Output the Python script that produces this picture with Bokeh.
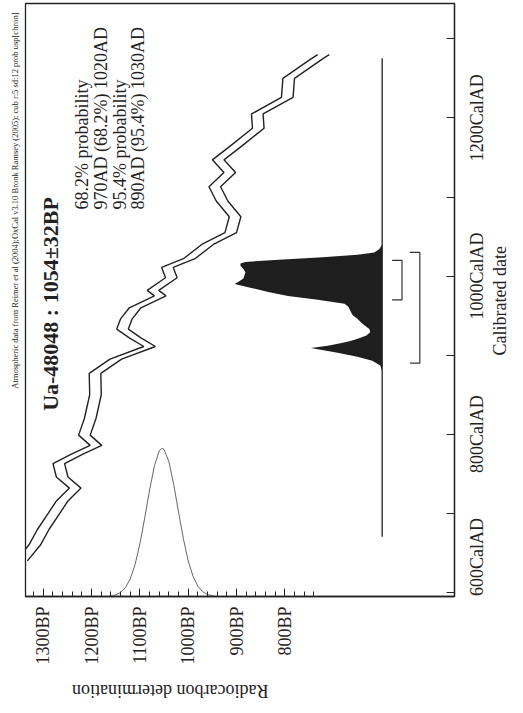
import math
from bokeh.plotting import figure
from bokeh.models import Range1d, FixedTicker, Label, LinearAxis
from bokeh.embed import file_html
from bokeh.resources import INLINE

# ---------------- data ----------------
# calibration curve (IntCal04 as drawn): cal AD vs radiocarbon BP (centre), +/- sigma
cal_ad = [640, 660, 680, 700, 715, 732, 746, 763, 775, 786, 799, 820, 850, 877, 895,
          911, 922, 933, 946, 960, 975, 982, 998, 1011, 1022, 1040, 1055, 1075, 1095,
          1113, 1131, 1147, 1165, 1187, 1205, 1226, 1250, 1275, 1280]
cal_bp = [1345, 1318, 1300, 1278, 1262, 1234, 1261, 1268, 1230, 1191, 1215, 1203, 1192, 1193, 1150,
          1080, 1110, 1136, 1128, 1110, 1058, 1073, 1035, 1043, 998, 960, 912, 903, 930,
          945, 914, 938, 900, 855, 857, 795, 792, 733, 720]
cal_sigma = 12

# radiocarbon determination 1054 +/- 32 BP (relative height as drawn)
c14_bp = [1165, 1160, 1150, 1140, 1130, 1120, 1110, 1100, 1090, 1080, 1070, 1060, 1054,
          1050, 1040, 1030, 1020, 1010, 1000, 990, 980, 970, 960, 950, 945]
c14_p = [0.0, 0.004, 0.011, 0.027, 0.060, 0.119, 0.216, 0.356, 0.531, 0.719, 0.882, 0.983, 1.0,
         0.992, 0.909, 0.755, 0.569, 0.389, 0.240, 0.135, 0.069, 0.032, 0.013, 0.005, 0.0]

# calibrated probability distribution (relative)
pdf_ad = [880, 887, 893, 898, 903, 907, 909, 912, 915, 918, 921, 925, 929, 933, 937, 941,
          946, 951, 956, 961, 965, 970, 975, 980, 985, 990, 993, 997, 1001, 1005, 1009,
          1013, 1016, 1018, 1021, 1024, 1027, 1030, 1034, 1040, 1045]
pdf_p = [0.0, 0.013, 0.067, 0.168, 0.302, 0.416, 0.483, 0.369, 0.282, 0.215, 0.161, 0.107,
         0.081, 0.087, 0.114, 0.141, 0.168, 0.201, 0.215, 0.228, 0.255, 0.436, 0.638, 0.772,
         0.886, 1.0, 0.973, 0.940, 0.933, 0.926, 0.940, 0.960, 0.960, 0.926, 0.671, 0.403,
         0.168, 0.054, 0.020, 0.0, 0.0]

# ranges
range_68 = [970, 1020]
range_95 = [890, 1030]

bp_major = [800, 900, 1000, 1100, 1200, 1300]
bp_minor = list(range(740, 1321, 20))
ad_ticks = [600, 700, 800, 900, 1000, 1100, 1200, 1300]
ad_labelled = [800, 1000, 1200]
ad_first = 600

title = "Ua-48048 : 1054\u00b132BP"
header = ("Atmospheric data from Reimer et al (2004);OxCal v3.10 Bronk Ramsey (2005); "
          "cub r:5 sd:12 prob usp[chron]")
prob_lines = ["68.2% probability", "970AD (68.2%) 1020AD",
              "95.4% probability", "890AD (95.4%) 1030AD"]
x_title = "Calibrated date"
y_title = "Radiocarbon determination"

# ---------------- layout (page pixels) ----------------
W, H = 523, 713
FL, FR, FT, FB = 25, 458, 3, 599          # frame edges on page
X0, BP0 = 43, 1300                         # 1300BP at page x=43
PX_BP = 0.4875                             # px per BP year
Y0, AD0 = 595, 600                         # 600 CalAD at page y=595
PX_AD = 0.795                              # px per calendar year
FS = 18                                     # main serif size (px)


def bp_at(x):
    return BP0 - (x - X0) / PX_BP


def ad_at(y):
    return AD0 + (Y0 - y) / PX_AD


# approximate Liberation Serif advance widths (em) for centring rotated labels
EM = {"0": .5, "1": .5, "2": .5, "3": .5, "4": .5, "5": .5, "6": .5, "7": .5, "8": .5,
      "9": .5, "C": .667, "a": .444, "l": .278, "A": .722, "D": .722, "i": .278,
      "b": .5, "r": .333, "t": .278, "e": .444, "d": .5, " ": .25}


def text_px(s, size=FS):
    return sum(EM.get(ch, .5) for ch in s) * size


INK = "#222222"
SERIF = "Liberation Serif"

p = figure(width=W, height=H, output_backend="svg", toolbar_location=None,
           x_range=Range1d(bp_at(FL), bp_at(FR)), y_range=Range1d(ad_at(FB), ad_at(FT)),
           x_axis_location="below", y_axis_location="right",
           min_border_left=FL, min_border_right=W - FR, min_border_top=FT,
           min_border_bottom=H - FB, background_fill_color="white",
           border_fill_color="white", outline_line_color=INK, outline_line_width=1.3)
p.grid.visible = False


def text_axis(ticks, labels, size, angle, standoff):
    """An axis that draws only its tick labels (no line, no tick marks)."""
    return LinearAxis(ticker=FixedTicker(ticks=ticks), axis_line_color=None,
                      major_tick_line_color=None, minor_tick_line_color=None,
                      major_tick_out=0, major_tick_in=0,
                      major_label_standoff=standoff, major_label_orientation=angle,
                      major_label_overrides=dict(zip(ticks, labels)),
                      major_label_text_font=SERIF, major_label_text_font_size=size,
                      major_label_text_color=INK)


# bottom (radiocarbon) axis: ticks + labels
xa = p.xaxis[0]
xa.ticker = FixedTicker(ticks=bp_major, minor_ticks=bp_minor)
xa.major_label_overrides = {v: f"{v}BP" for v in bp_major}
xa.major_label_orientation = math.pi / 2
xa.major_tick_in = 8
xa.major_tick_out = 0
xa.minor_tick_in = 5
xa.minor_tick_out = 0
xa.major_label_standoff = 10
xa.major_label_text_font = SERIF
xa.major_label_text_font_size = f"{FS}px"
xa.major_label_text_color = INK
xa.axis_line_color = INK
xa.axis_line_width = 1.3
xa.major_tick_line_color = INK
xa.minor_tick_line_color = INK

# upside-down axis title; its end (left side) sits at x=72
p.add_layout(text_axis([bp_at(72)], [y_title], f"{FS}px", math.pi, 23), "below")

# right (calendar) axis: tick marks only
ya = p.yaxis[0]
ya.ticker = FixedTicker(ticks=ad_ticks)
ya.major_label_overrides = {v: "" for v in ad_ticks}
ya.major_label_text_font_size = "0px"
ya.major_label_standoff = 0
ya.major_tick_in = 8
ya.major_tick_out = 0
ya.axis_line_color = INK
ya.axis_line_width = 1.3
ya.major_tick_line_color = INK
ya.minor_tick_line_color = None

# calendar labels, centred on their ticks (labels start at the anchor and run upward);
# the first one cannot hang below the frame, so it starts at the frame's bottom edge
cal_texts = [f"{v}CalAD" for v in ad_labelled] + [f"{ad_first}CalAD"]
cal_pos = [v - text_px(s) / 2 / PX_AD for v, s in zip(ad_labelled, cal_texts)]
cal_pos.append(ad_at(FB - 0.5))
p.add_layout(text_axis(cal_pos, cal_texts, f"{FS}px", math.pi / 2, 23), "right")

# calendar axis title, centred near the middle of the frame
xt_pos = ad_at(302 + text_px(x_title) / 2)
p.add_layout(text_axis([xt_pos], [x_title], f"{FS}px", math.pi / 2, 0), "right")

# header line along the left edge, ending near the top
p.add_layout(text_axis([ad_at(12)], [header], "8.5px", math.pi / 2, 10), "left")

# calibration curve band edges
p.line([b + cal_sigma for b in cal_bp], cal_ad, line_color=INK, line_width=1.4)
p.line([b - cal_sigma for b in cal_bp], cal_ad, line_color=INK, line_width=1.4)

# radiocarbon gaussian rising from the bottom axis
G_H = 149 / PX_AD
p.line(c14_bp, [ad_at(FB) + v * G_H for v in c14_p], line_color="#666666", line_width=1.0)

# calibrated distribution from a baseline
BASE = bp_at(385)
P_H = 149 / PX_BP
p.harea(y=pdf_ad, x1=[BASE] * len(pdf_ad), x2=[BASE + v * P_H for v in pdf_p],
        fill_color="#1e1e1e")
p.line([BASE, BASE], [ad_at(539), ad_at(58)], line_color=INK, line_width=1.3)

# range brackets
for rng, xin, xout in ((range_68, 395, 405), (range_95, 413, 423)):
    p.line([bp_at(xin), bp_at(xout), bp_at(xout), bp_at(xin)],
           [rng[0], rng[0], rng[1], rng[1]], line_color="#333333", line_width=1.2)


# texts inside the frame
def txt(x, y, s, size, align="center", bold=False):
    p.add_layout(Label(x=bp_at(x), y=ad_at(y), text=s, angle=math.pi / 2, text_align=align,
                       text_baseline="middle", text_font=SERIF,
                       text_font_size=size, text_color=INK,
                       text_font_style="bold" if bold else "normal"))


txt(50, 305, title, "22px", bold=True)
for i, s in enumerate(prob_lines):
    txt(82 + i * 19, 210, s, f"{FS}px", align="left")

open("out.html", "w").write(file_html(p, INLINE))
